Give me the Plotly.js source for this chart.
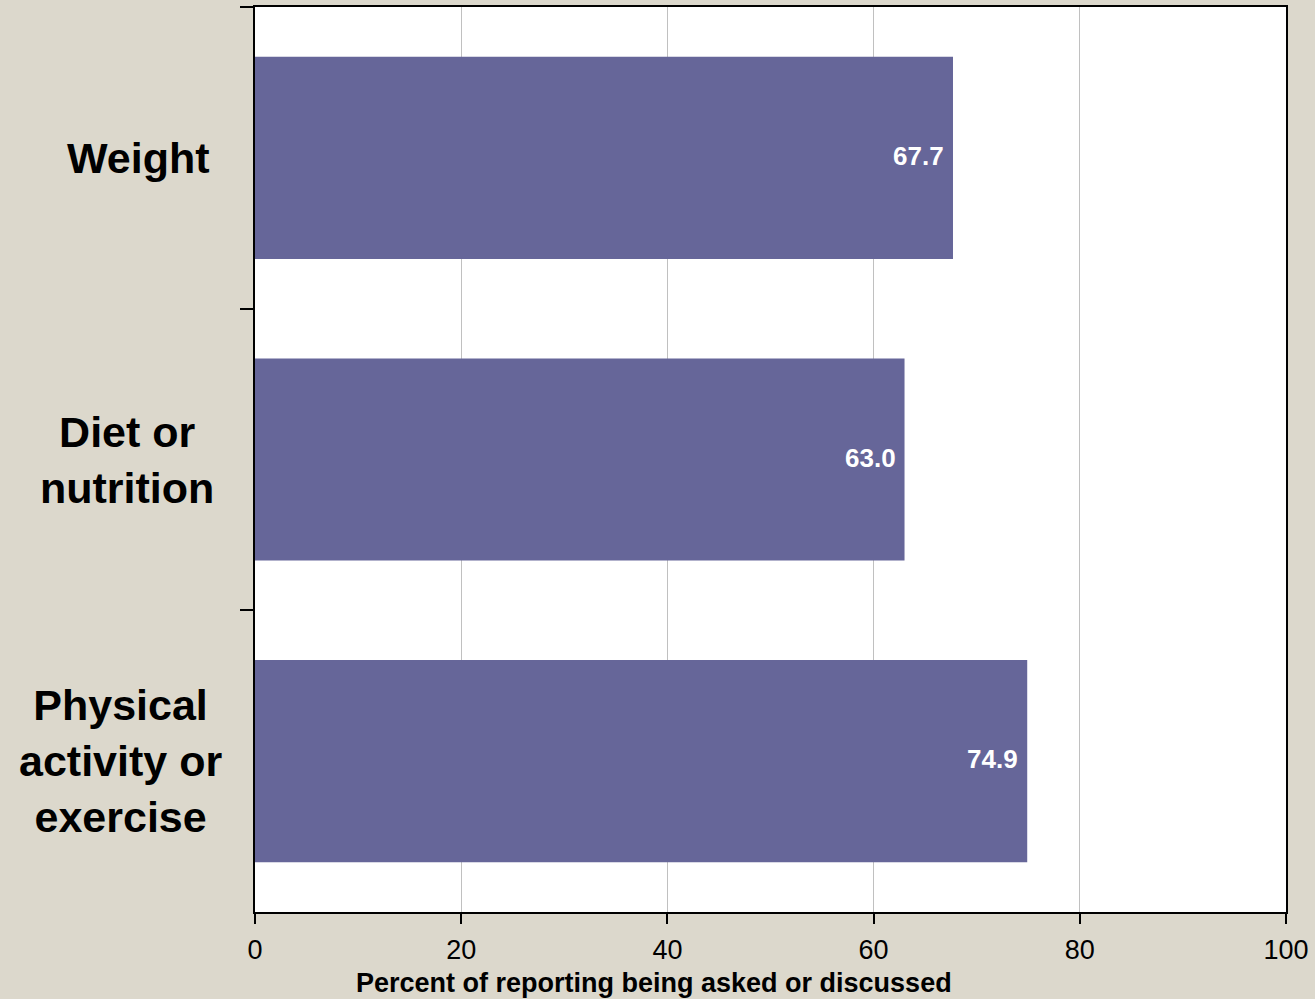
<!DOCTYPE html>
<html>
<head>
<meta charset="utf-8">
<script src="https://cdn.plot.ly/plotly-3.0.1.min.js"></script>
<style>html,body{margin:0;padding:0;background:#DCD8CC;}</style>
</head>
<body>
<div id="chart" style="width:1315px;height:999px;"></div>
<script>
const categories = ["Weight", "Diet or nutrition", "Physical activity or exercise"];
const categoryLabels = ["Weight", "Diet or<br>nutrition", "Physical<br>activity or<br>exercise"];
const values = [67.7, 63.0, 74.9];
const valueLabels = ["67.7", "63.0", "74.9"];
const xTicks = [0, 20, 40, 60, 80, 100];
const xTitle = "Percent of reporting being asked or discussed";

const FONT = "Liberation Sans, Arial, sans-serif";

const trace = {
  type: "bar",
  orientation: "h",
  y: categories,
  x: values,
  marker: {color: "#666699"},
  width: 0.67,
  hoverinfo: "none"
};

// label horizontal nudges (style only)
const labelShift = [-4, 0, 8];

const annotations = categories.map((c, i) => ({
  xref: "paper", yref: "y",
  x: -0.038, y: c,
  xanchor: "right", yanchor: "middle",
  xshift: labelShift[i],
  align: "center",
  text: "<b>" + categoryLabels[i] + "</b>",
  showarrow: false,
  font: {family: FONT, size: 43, color: "#000000"}
}));
values.forEach((v, i) => {
  annotations.push({
    xref: "x", yref: "y",
    x: v, y: categories[i],
    xanchor: "right", yanchor: "middle",
    xshift: -7, yshift: 2,
    text: "<b>" + valueLabels[i] + "</b>",
    showarrow: false,
    font: {family: FONT, size: 26, color: "#FFFFFF"}
  });
});
annotations.push({
  xref: "paper", yref: "paper",
  x: 0.387, y: -0.0785,
  xanchor: "center", yanchor: "middle",
  text: "<b>" + xTitle + "</b>",
  showarrow: false,
  font: {family: FONT, size: 27, color: "#000000"}
});

const layout = {
  width: 1315, height: 999,
  margin: {l: 255, r: 29, t: 7, b: 87},
  paper_bgcolor: "#DCD8CC",
  plot_bgcolor: "#FFFFFF",
  showlegend: false,
  xaxis: {
    range: [0, 100],
    tickvals: xTicks,
    ticktext: xTicks.map(String),
    showgrid: true,
    gridcolor: "#C0C0C0",
    gridwidth: 1,
    zeroline: false,
    showline: true,
    linecolor: "#000000",
    linewidth: 2,
    mirror: true,
    ticks: "outside",
    ticklen: 10,
    tickwidth: 2,
    tickcolor: "#000000",
    ticklabelstandoff: 3,
    tickfont: {family: FONT, size: 27, color: "#000000"},
    fixedrange: true
  },
  yaxis: {
    type: "category",
    categoryorder: "array",
    categoryarray: categories,
    autorange: "reversed",
    showticklabels: false,
    showgrid: false,
    zeroline: false,
    showline: true,
    linecolor: "#000000",
    linewidth: 2,
    mirror: true,
    ticks: "outside",
    tickson: "boundaries",
    ticklen: 13,
    tickwidth: 2,
    tickcolor: "#000000",
    fixedrange: true
  },
  annotations: annotations
};

Plotly.newPlot("chart", [trace], layout, {displayModeBar: false, staticPlot: true});
</script>
</body>
</html>
